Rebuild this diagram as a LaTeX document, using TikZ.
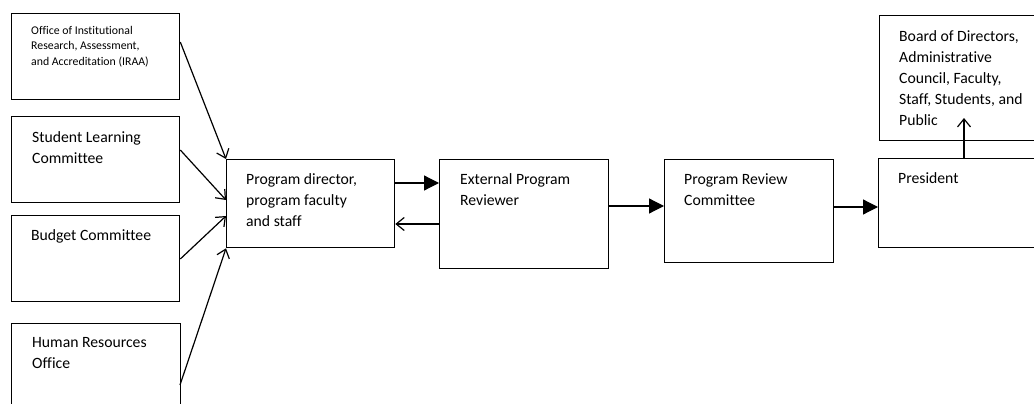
\documentclass[tikz,border=0pt]{standalone}
\usepackage{fontspec}
\setmainfont{Carlito}[Ligatures=NoCommon]
\usetikzlibrary{arrows.meta,calc}
\begin{document}
\begin{tikzpicture}[x=1pt,y=-1pt,
  box/.style={draw,line width=1.3pt,inner sep=0pt,anchor=north west},
  txt/.style={inner sep=0pt,anchor=north west,align=left,font=\fontsize{15.7}{21}\selectfont},
  small/.style={inner sep=0pt,anchor=north west,align=left,font=\fontsize{11.8}{15.5}\selectfont},
  open/.style={line width=1.2pt,-{Straight Barb[length=8pt,width=13pt]}},
  fill/.style={line width=1.2pt,-{Triangle[length=15pt,width=15pt]}}]
\useasboundingbox (0,0) rectangle (1034,404);
\clip (0,0) rectangle (1034,404);
% boxes
\node[box,minimum width=168pt,minimum height=86pt] (iraa) at (11,13) {};
\node[box,minimum width=168pt,minimum height=86pt] (slc) at (11,116) {};
\node[box,minimum width=168pt,minimum height=86pt] (bud) at (11,215) {};
\node[box,minimum width=169pt,minimum height=100pt] (hr) at (11,323) {};
\node[box,minimum width=168pt,minimum height=88pt] (pd) at (226,159) {};
\node[box,minimum width=169pt,minimum height=109pt] (ext) at (439,159) {};
\node[box,minimum width=169pt,minimum height=103pt] (prc) at (664,159) {};
\node[box,minimum width=170pt,minimum height=89pt] (pres) at (878,158) {};
\node[box,minimum width=170pt,minimum height=125pt] (board) at (879,15) {};
% texts
\node[small] (iraat) at ($(iraa.north west)+(20,13)$) {Office of Institutional\\Research, Assessment,\\and Accreditation (IRAA)};
\node[txt] (slct) at ($(slc.north west)+(21,15)$) {Student Learning\\Committee};
\node[txt] (budt) at ($(bud.north west)+(20,14)$) {Budget Committee};
\node[txt] (hrt) at ($(hr.north west)+(21,14)$) {Human Resources\\Office};
\node[txt] (pdt) at ($(pd.north west)+(20,14)$) {Program director,\\program faculty\\and staff};
\node[txt] (extt) at ($(ext.north west)+(21,14)$) {External Program\\Reviewer};
\node[txt] (prct) at ($(prc.north west)+(20,14)$) {Program Review\\Committee};
\node[txt] (prest) at ($(pres.north west)+(20,14)$) {President};
\node[txt] (boardt) at ($(board.north west)+(20,15)$) {Board of Directors,\\Administrative\\Council, Faculty,\\Staff, Students, and\\Public};
% connectors
\draw[open] ($(iraa.north east)+(0,29)$) -- (pd.north west);
\draw[open] ($(slc.north east)+(0,34)$) -- ($(pd.north west)+(0,41)$);
\draw[open] ($(bud.north east)+(0,44)$) -- ($(pd.north west)+(0,57)$);
\draw[open] ($(hr.north west)+(169,62)$) -- (pd.south west);
\draw[fill] ($(pd.north east)+(0,24)$) -- ($(ext.north west)+(0,24)$);
\draw[open] ($(ext.north west)+(0,65)$) -- ($(pd.north east)+(0,65)$);
\draw[fill] ($(ext.north east)+(0,47)$) -- ($(prc.north west)+(0,47)$);
\draw[fill] ($(prc.north east)+(0,48)$) -- ($(pres.north west)+(0,49)$);
\coordinate (bup) at ($(board.north west)+(85,103)$);
\draw[open] (pres.north west -| bup) -- (bup);
\end{tikzpicture}
\end{document}
